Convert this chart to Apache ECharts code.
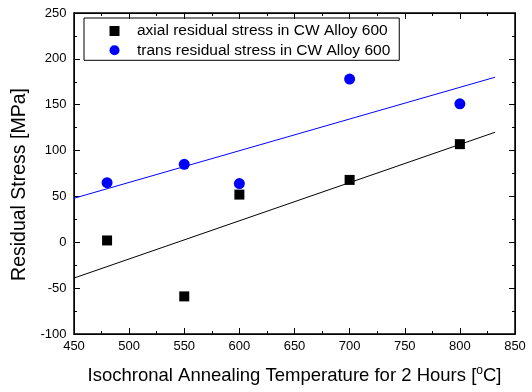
<!DOCTYPE html>
<html><head><meta charset="utf-8">
<script src="https://cdn.jsdelivr.net/npm/echarts@6/dist/echarts.min.js"></script>
<style>html,body{margin:0;padding:0;background:#fff}#c{width:532px;height:392px}</style>
</head><body><div id="c"></div>
<script>
const temps = [480, 550, 600, 700, 800];
const axialStress = [2, -59, 52, 68, 107];
const transStress = [65, 85, 64, 178, 151];
const fitX = [450, 832];
const axialFit = [-39, 120];
const transFit = [48, 180];
const xTicks = [450, 850, 50];
const yTicks = [-100, 250, 50];
const seriesNames = ['axial residual stress in CW Alloy 600', 'trans residual stress in CW Alloy 600'];

const chart = echarts.init(document.getElementById('c'), null, {renderer: 'canvas'});
const font = 'Liberation Sans, Arial, sans-serif';
const axisCommon = {
  axisLine: {show: true, onZero: false, lineStyle: {color: '#000', width: 1}},
  axisTick: {show: true, inside: true, length: 6, lineStyle: {color: '#000', width: 1}},
  minorTick: {show: true, splitNumber: 2, length: 3, lineStyle: {color: '#000', width: 1}},
  splitLine: {show: false}
};
chart.setOption({
  animation: false,
  textStyle: {fontFamily: font},
  grid: {left: 74, right: 17, top: 13, bottom: 58, containLabel: false,
    show: true, borderColor: '#000', borderWidth: 1.5, backgroundColor: 'transparent'},
  legend: {
    orient: 'vertical', left: 84, top: 18,
    padding: [5, 9, 2, 25.5],
    borderColor: '#000', borderWidth: 1,
    itemWidth: 10, itemHeight: 10, itemGap: 3.3,
    data: [{name: seriesNames[0], icon: 'rect'}, {name: seriesNames[1], icon: 'circle'}],
    textStyle: {fontSize: 15.5, lineHeight: 16, color: '#000', fontFamily: font, padding: [0, 0, 0, 12.5]}
  },
  xAxis: [
    Object.assign({type: 'value', min: xTicks[0], max: xTicks[1], interval: xTicks[2], position: 'bottom',
      name: '{a|Isochronal Annealing Temperature for 2 Hours [}{s|o}{a|C]}',
      nameLocation: 'middle', nameGap: 31,
      nameTextStyle: {rich: {a: {fontSize: 18.5, color: '#000', fontFamily: font}, s: {fontSize: 12, color: '#000', fontFamily: font, verticalAlign: 'top', padding: [0, 0, 9, 0]}}},
      axisLabel: {fontSize: 13, color: '#000', margin: 6, fontFamily: font}}, axisCommon),
    Object.assign({type: 'value', min: xTicks[0], max: xTicks[1], interval: xTicks[2], position: 'top',
      axisLabel: {show: false}}, axisCommon)
  ],
  yAxis: [
    Object.assign({type: 'value', min: yTicks[0], max: yTicks[1], interval: yTicks[2], position: 'left',
      name: 'Residual Stress [MPa]', nameLocation: 'middle', nameGap: 38,
      nameTextStyle: {fontSize: 19.5, color: '#000', fontFamily: font, padding: [0, 22, 0, 0]},
      axisLabel: {fontSize: 13, color: '#000', margin: 7.5, fontFamily: font}}, axisCommon),
    Object.assign({type: 'value', min: yTicks[0], max: yTicks[1], interval: yTicks[2], position: 'right',
      axisLabel: {show: false}}, axisCommon)
  ],
  series: [
    {name: seriesNames[0], type: 'scatter', symbol: 'rect', symbolSize: 10, itemStyle: {color: '#000', opacity: 1},
      data: temps.map((t, i) => [t, axialStress[i]]), z: 5},
    {name: seriesNames[1], type: 'scatter', symbol: 'circle', symbolSize: 11, itemStyle: {color: '#0000ff', opacity: 1},
      data: temps.map((t, i) => [t, transStress[i]]), z: 5},
    {name: 'axialFit', type: 'line', symbol: 'none', lineStyle: {color: '#000', width: 1},
      data: fitX.map((t, i) => [t, axialFit[i]]), z: 3},
    {name: 'transFit', type: 'line', symbol: 'none', lineStyle: {color: '#0000ff', width: 1},
      data: fitX.map((t, i) => [t, transFit[i]]), z: 3}
  ]
});
</script></body></html>
